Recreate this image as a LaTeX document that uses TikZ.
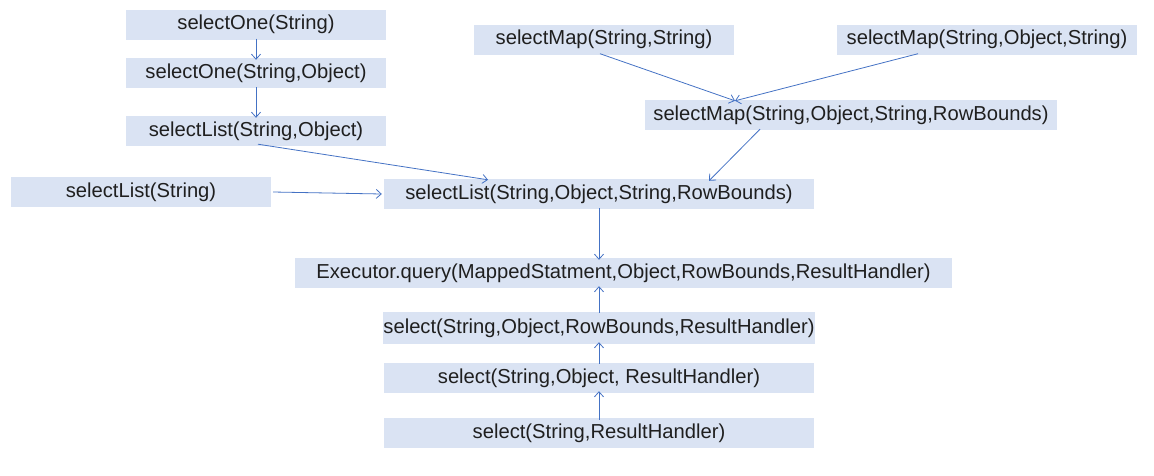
\documentclass[tikz,border=0pt]{standalone}
\usepackage{fontspec}
\setmainfont{Liberation Sans}
\usetikzlibrary{arrows.meta}
\definecolor{boxfill}{HTML}{DAE3F3}
\definecolor{linkblue}{HTML}{4472C4}
\definecolor{labelgray}{HTML}{1F1F1F}
\begin{document}
\begin{tikzpicture}[x=1pt,y=-1pt,
  callbox/.style={fill=boxfill, inner sep=0pt, minimum height=30pt,
    text=labelgray, font=\fontsize{20.2}{22}\selectfont},
  link/.style={draw=linkblue, line width=0.8pt,
    -{Straight Barb[length=5pt,width=9pt,line width=0.8pt]}}]
\useasboundingbox (0,0) rectangle (1154,475);
% left chain
\node[callbox, minimum width=260pt] (one1) at (256,24.5) {selectOne(String)};
\node[callbox, minimum width=260pt] (one2) at (256,73) {selectOne(String,Object)};
\node[callbox, minimum width=260pt] (list2) at (256,131) {selectList(String,Object)};
\node[callbox, minimum width=260pt] (list1) at (141,192) {selectList(String)};
% map chain
\node[callbox, minimum width=260pt] (map2) at (604,39.5) {selectMap(String,String)};
\node[callbox, minimum width=300pt] (map3) at (987,39.5) {selectMap(String,Object,String)};
\node[callbox, minimum width=412pt] (map4) at (851,115) {selectMap(String,Object,String,RowBounds)};
% central list
\node[callbox, minimum width=430pt] (list4) at (599,194) {selectList(String,Object,String,RowBounds)};
% executor and select chain
\node[callbox, minimum width=657pt] (exec) at (623.5,273) {Executor.query(MappedStatment,Object,RowBounds,ResultHandler)};
\node[callbox, minimum width=430pt, minimum height=32pt] (sel4) at (599,328) {select(String,Object,RowBounds,ResultHandler)};
\node[callbox, minimum width=430pt] (sel3) at (599,378) {select(String,Object, ResultHandler)};
\node[callbox, minimum width=430pt] (sel2) at (599,433) {select(String,ResultHandler)};
% connectors
\draw[link] ([yshift=1pt]one1.south) -- ([yshift=-2pt]one2.north);
\draw[link] ([yshift=1pt]one2.south) -- ([yshift=-2pt]list2.north);
\draw[link] ([xshift=2pt,yshift=2pt]list2.south) -- ([xshift=-111pt,yshift=-1pt]list4.north);
\draw[link] ([xshift=2pt]list1.east) -- ([xshift=-2pt]list4.west);
\draw[link] ([xshift=-4pt,yshift=1pt]map2.south) -- ([xshift=-116pt,yshift=-1pt]map4.north);
\draw[link] ([xshift=-69pt,yshift=1pt]map3.south) -- ([xshift=-116pt,yshift=-1pt]map4.north);
\draw[link] ([xshift=-91pt,yshift=1pt]map4.south) -- ([xshift=110pt,yshift=-2pt]list4.north);
\draw[link] ([yshift=1pt]list4.south) -- ([yshift=-2pt]list4.south |- exec.north);
\draw[link] ([yshift=-1pt]sel4.north) -- ([yshift=2pt]sel4.north |- exec.south);
\draw[link] ([yshift=-1pt]sel3.north) -- ([yshift=2pt]sel4.south);
\draw[link] ([yshift=-2pt]sel2.north) -- ([yshift=2pt]sel3.south);
\end{tikzpicture}
\end{document}
